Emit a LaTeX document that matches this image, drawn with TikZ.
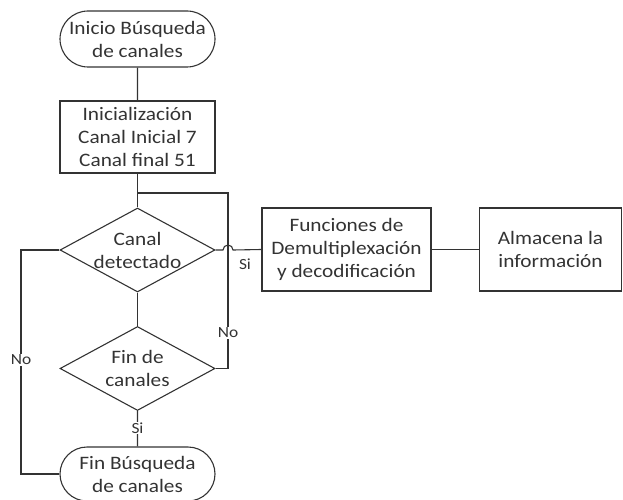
\documentclass[tikz,border=0pt]{standalone}
\usepackage{fontspec}
\setmainfont{Carlito}[FakeStretch=1.12]
\usetikzlibrary{shapes.geometric,shapes.misc,calc}
\begin{document}
\begin{tikzpicture}[x=1pt,y=-1pt,
  every node/.style={font=\fontsize{19}{23}\selectfont, text=black!80},
  line/.style={draw=black!80, line width=1.1pt},
  term/.style={line, rounded rectangle, minimum width=155pt, minimum height=56pt, inner sep=0pt, align=center},
  proc/.style={line, rectangle, minimum height=83pt, inner sep=0pt, align=center},
  decis/.style={line, diamond, aspect=1.85, minimum width=155pt, minimum height=84pt, inner sep=0pt, align=center},
  lab/.style={font=\fontsize{15.5}{17}\selectfont, fill=white, inner sep=1pt}]
\useasboundingbox (0,0) rectangle (623,500);
\node[term] (ini) at (137.5,39) {Inicio Búsqueda\\de canales};
\node[proc, minimum width=155pt, minimum height=72pt] (init) at (137.5,137) {Inicialización\\Canal Inicial 7\\Canal final 51};
\node[decis] (d1) at (137.5,250) {Canal\\detectado};
\node[decis] (d2) at (137.5,368.5) {Fin de\\canales};
\node[term, minimum height=54pt] (fin) at (137.5,474) {Fin Búsqueda\\de canales};
\node[proc, minimum width=169pt] (fun) at (346.5,249.5) {Funciones de\\Demultiplexación\\y decodificación};
\node[proc, minimum width=142pt] (alm) at (550.5,249.5) {Almacena la\\información};
\coordinate (j1) at (137.5,193);
\coordinate (lp) at (228,193);
\coordinate (jmp) at (228,250);
\draw[line] (ini) -- (init);
\draw[line] (init) -- (d1);
\draw[line] (d1) -- (d2);
\draw[line] (d2) -- node[lab, pos=0.48] {Si} (fin);
\draw[line] (j1) -- (lp) -- (lp |- d2.east) -- (d2.east);
\node[lab] (no2) at (228,333) {No};
\draw[line] (d1.east) -- ($(jmp)+(-5,0)$) arc[start angle=180, end angle=360, radius=5] -- (fun.west);
\node[font=\fontsize{15.5}{17}\selectfont] (si1) at (245,264) {Si};
\draw[line] (fun) -- (alm);
\draw[line] (d1.west) -- (21,250) |- (fin.west);
\node[lab] (no1) at (21,360) {No};
\end{tikzpicture}
\end{document}
